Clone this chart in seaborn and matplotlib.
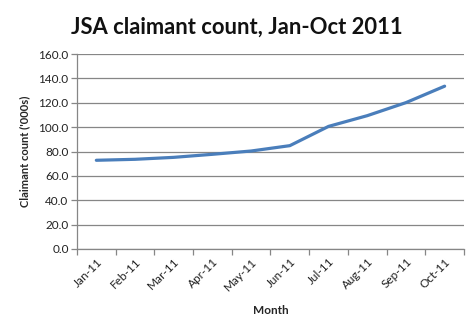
import matplotlib
matplotlib.use("Agg")
import matplotlib.pyplot as plt
import seaborn as sns
import pandas as pd

months = ["Jan-11", "Feb-11", "Mar-11", "Apr-11", "May-11",
          "Jun-11", "Jul-11", "Aug-11", "Sep-11", "Oct-11"]
claimants = [72.8, 73.6, 75.2, 77.7, 80.4, 84.8, 100.6, 109.4, 120.1, 133.6]
y_ticks = [0, 20, 40, 60, 80, 100, 120, 140, 160]

df = pd.DataFrame({"Month": months, "Claimants": claimants})

sns.set_theme(style="white")
plt.rcParams["font.family"] = ["Lato", "DejaVu Sans"]

fig = plt.figure(figsize=(4.77, 3.34), dpi=100)
ax = fig.add_axes([0.1614, 0.2545, 0.8113, 0.5838])

sns.lineplot(data=df, x="Month", y="Claimants", sort=False, ax=ax,
             color="#4A7EBB", linewidth=2.3)

grid_col = "#868686"
ax.set_ylim(0, 160)
ax.set_yticks(y_ticks)
ax.set_yticklabels([f"{v:.1f}" for v in y_ticks])
ax.yaxis.grid(True, color=grid_col, linewidth=0.9)
ax.set_axisbelow(True)
ax.set_xlim(-0.5, len(months) - 0.5)

# category labels sit at the centres, tick marks at the boundaries
ax.set_xticks(range(len(months)))
ax.set_xticklabels(months, rotation=45, ha="right", rotation_mode="anchor",
                   fontsize=8.5, color="#222222")
ax.tick_params(axis="x", length=0, pad=5)
ax.set_xticks([i - 0.5 for i in range(len(months) + 1)], minor=True)
ax.tick_params(axis="x", which="minor", length=4, width=0.9, color=grid_col,
               direction="out", bottom=True)
ax.tick_params(axis="y", length=4, width=0.9, color=grid_col, left=True,
               labelsize=8.5, labelcolor="#222222", pad=2)

for side in ("top", "right"):
    ax.spines[side].set_visible(False)
for side in ("left", "bottom"):
    ax.spines[side].set_color(grid_col)
    ax.spines[side].set_linewidth(0.9)

ax.set_xlabel("Month", fontsize=8.5, fontweight="bold", labelpad=9)
ax.set_ylabel("Claimant count ('000s)", fontsize=8, fontweight="bold", labelpad=6)

fig.text(0.497, 0.918, "JSA claimant count, Jan-Oct 2011", ha="center",
         va="center", fontsize=15.8, fontweight="bold", color="#111111")

fig.savefig("out.png", dpi=100)
